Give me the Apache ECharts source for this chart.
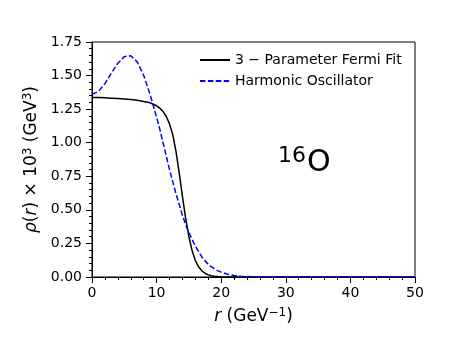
<!DOCTYPE html>
<html>
<head>
<meta charset="utf-8">
<script src="https://cdn.jsdelivr.net/npm/echarts@6/dist/echarts.min.js"></script>
<style>
  html, body { margin: 0; padding: 0; background: #fff; }
  #chart { width: 461px; height: 346px; }
</style>
</head>
<body>
<div id="chart"></div>
<script>
// radius values (GeV^-1)
const radius = [0, 1, 2, 3, 4, 5, 6, 7, 8, 9,
  10, 10.5, 11, 11.5, 12, 12.5, 13, 13.5, 14, 14.5, 15, 15.5, 16, 16.5, 17, 17.5, 18, 18.5, 19, 19.5, 20,
  21, 22, 23, 24, 25, 30, 35, 40, 45, 50];

// 3-parameter Fermi fit, rho x 10^3
const fermiValues = [1.336, 1.336, 1.334, 1.332, 1.330, 1.326, 1.322, 1.316, 1.307, 1.297,
  1.275, 1.257, 1.232, 1.195, 1.140, 1.060, 0.935, 0.775, 0.600, 0.437, 0.300, 0.195, 0.123, 0.076, 0.046, 0.028, 0.016, 0.0095, 0.0056, 0.0033, 0.002,
  0.0007, 0.0002, 0, 0, 0, 0, 0, 0, 0, 0];

// harmonic oscillator, rho x 10^3
const hoValues = [1.360, 1.381, 1.440, 1.518, 1.592, 1.641, 1.648, 1.602, 1.502, 1.358,
  1.190, 1.100, 1.000, 0.900, 0.800, 0.710, 0.620, 0.540, 0.460, 0.390, 0.330, 0.280, 0.230, 0.190, 0.150, 0.120, 0.095, 0.075, 0.058, 0.046, 0.036,
  0.020, 0.011, 0.006, 0.003, 0.001, 0, 0, 0, 0, 0];

const seriesNames = ['3 \u2212 Parameter Fermi Fit', 'Harmonic Oscillator'];
const xTicks = [0, 50, 10];
const yTicks = [0, 1.75, 0.25];

const chart = echarts.init(document.getElementById('chart'));
const font = 'DejaVu Sans';

// rich styles for axis names: italic letters and superscripts
const nameRich = {
  i: { fontFamily: font, fontSize: 17, fontStyle: 'italic', color: '#000' },
  t: { fontFamily: font, fontSize: 17, color: '#000' },
  s: { fontFamily: font, fontSize: 12, color: '#000', verticalAlign: 'top', padding: [0, 0, 7, 0] }
};

const option = {
  animation: false,
  backgroundColor: '#fff',
  textStyle: { fontFamily: font },
  title: {
    left: 273,
    top: 140,
    text: '{sup|16}{big|O}',
    textStyle: {
      fontWeight: 'normal',
      rich: {
        sup: { fontFamily: font, fontSize: 22, fontWeight: 'normal', color: '#000', verticalAlign: 'top', padding: [0, 1, 14, 0] },
        big: { fontFamily: font, fontSize: 30, fontWeight: 'normal', color: '#000' }
      }
    }
  },
  legend: {
    orient: 'vertical',
    left: 194,
    top: 48,
    itemWidth: 30,
    itemHeight: 10,
    itemGap: 7,
    itemStyle: { opacity: 0 },
    textStyle: { fontFamily: font, fontSize: 14, color: '#000' },
    data: seriesNames
  },
  grid: {
    left: 92, right: 46, top: 42, bottom: 69,
    show: true, borderColor: '#000', borderWidth: 1
  },
  xAxis: {
    type: 'value',
    min: xTicks[0], max: xTicks[1], interval: xTicks[2],
    name: '{i|r}{t| (GeV}{s|\u22121}{t|)}',
    nameLocation: 'middle',
    nameGap: 30,
    nameTextStyle: { fontFamily: font, fontSize: 17, color: '#000', rich: nameRich },
    axisLine: { lineStyle: { color: '#000', width: 1 } },
    axisTick: { show: true, inside: false, length: 6, lineStyle: { color: '#000' } },
    minorTick: { show: true, splitNumber: 5, length: 3, lineStyle: { color: '#000' } },
    axisLabel: { fontFamily: font, fontSize: 14, color: '#000', margin: 9 },
    splitLine: { show: false }
  },
  yAxis: {
    type: 'value',
    min: yTicks[0], max: yTicks[1], interval: yTicks[2],
    name: '{i|\u03C1}{t|(}{i|r}{t|) \u00D7 10}{s|3}{t| (GeV}{s|3}{t|)}',
    nameLocation: 'middle',
    nameRotate: 90,
    nameGap: 42,
    nameTextStyle: { fontFamily: font, fontSize: 17, color: '#000', rich: nameRich },
    axisLine: { lineStyle: { color: '#000', width: 1 } },
    axisTick: { show: true, inside: false, length: 6, lineStyle: { color: '#000' } },
    minorTick: { show: true, splitNumber: 5, length: 3, lineStyle: { color: '#000' } },
    axisLabel: {
      fontFamily: font, fontSize: 14, color: '#000', margin: 10,
      formatter: v => v.toFixed(2)
    },
    splitLine: { show: false }
  },
  series: [
    {
      name: seriesNames[0],
      type: 'line',
      showSymbol: false,
      symbol: 'none',
      data: radius.map((r, i) => [r, fermiValues[i]]),
      lineStyle: { color: '#000', width: 1.5 },
      itemStyle: { color: '#000' }
    },
    {
      name: seriesNames[1],
      type: 'line',
      showSymbol: false,
      symbol: 'none',
      data: radius.map((r, i) => [r, hoValues[i]]),
      lineStyle: { color: '#0000ff', width: 1.5, type: [5.5, 2.4] },
      itemStyle: { color: '#0000ff' }
    }
  ]
};

chart.setOption(option);
</script>
</body>
</html>
